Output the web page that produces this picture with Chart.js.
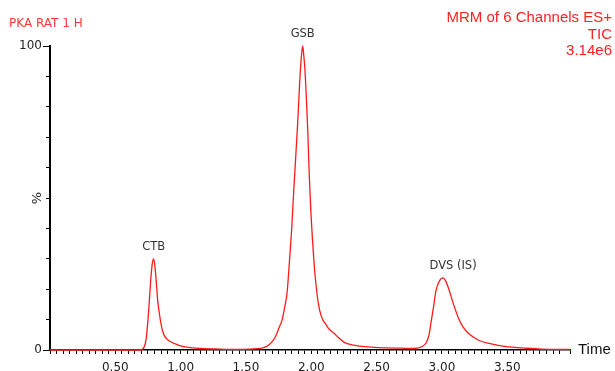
<!DOCTYPE html>
<html lang="en">
<head>
<meta charset="UTF-8">
<title>PKA RAT 1 H - MRM TIC</title>
<script src="https://cdn.jsdelivr.net/npm/chart.js"></script>
<style>
  body { margin: 0; background: #fff; }
  .wrap { position: relative; width: 615px; height: 371px; overflow: hidden; }
  .sample {
    position: absolute; left: 9px; top: 16px;
    font: 12px "DejaVu Sans", sans-serif; line-height: 14px;
    color: #ff3838;
  }
  .info {
    position: absolute; right: 3px; top: 9px;
    font: 15px "Liberation Sans", Arial, sans-serif; line-height: 16.7px;
    color: #ff2020; text-align: right;
  }
</style>
</head>
<body>
<div class="wrap">
  <canvas id="tic"></canvas>
  <div class="sample">PKA RAT 1 H</div>
  <div class="info">MRM of 6 Channels ES+<br>TIC<br>3.14e6</div>
</div>

<script>
// retention time (min) and relative intensity (%)
const retentionTimes = [
  0.00, 0.69, 0.721, 0.737, 0.750, 0.760, 0.771, 0.783, 0.793, 0.802,
  0.814, 0.825, 0.837, 0.848, 0.867, 0.890, 0.921, 0.959, 1.013, 1.074,
  1.151, 1.30, 1.45, 1.535, 1.612, 1.658, 1.696, 1.727, 1.750, 1.777,
  1.796, 1.815, 1.834, 1.850, 1.865, 1.880, 1.896, 1.911, 1.923, 1.934,
  1.942, 1.950, 1.961, 1.973, 1.984, 1.995, 2.011, 2.026, 2.045, 2.064,
  2.087, 2.110, 2.134, 2.172, 2.210, 2.249, 2.325, 2.433, 2.571, 2.686,
  2.778, 2.840, 2.878, 2.901, 2.916, 2.935, 2.955, 2.978, 3.008, 3.027,
  3.047, 3.085, 3.131, 3.162, 3.200, 3.277, 3.377, 3.507, 3.607, 3.761,
  3.98
];
const intensities = [
  0, 0, 1, 4, 10, 16, 23, 28.5, 30, 28,
  22, 16, 12, 9, 5.5, 3.8, 2.8, 2, 1.2, 0.8,
  0.5, 0.3, 0.2, 0.3, 0.5, 1.2, 2.5, 4.5, 7, 10,
  14, 19, 30, 40, 52, 63, 75, 88, 96, 100,
  97, 93, 84, 72, 58, 47, 35, 26, 18, 13,
  10, 8.5, 7, 5.6, 4, 2.6, 1.6, 1, 0.7, 0.6,
  0.5, 1, 2.3, 5, 9, 14, 19.7, 22.5, 23.7, 22.8,
  20.7, 15.5, 10, 7.5, 5.6, 3.3, 2, 1, 0.7, 0.3,
  0.2
];

// peak annotations
const peakNames = ['CTB', 'GSB', 'DVS (IS)'];
const peakLabelTimes = [0.794, 1.934, 3.085];
const peakHeights = [30, 100, 23.7];

// axis ticks
const xLabelTimes = [0.5, 1.0, 1.5, 2.0, 2.5, 3.0, 3.5];
const yTickLabels = [0, 100];

const tickFont = { family: '"DejaVu Sans", sans-serif', size: 12 };

// extra text and long ticks drawn on top of the chart
const extras = {
  id: 'extras',
  afterDraw(chart) {
    const { ctx, scales: { x, y } } = chart;
    ctx.save();

    // longer ticks at 0 and 100
    ctx.strokeStyle = '#000';
    ctx.lineWidth = 1;
    yTickLabels.forEach(v => {
      const py = Math.round(y.getPixelForValue(v)) + 0.5;
      ctx.beginPath();
      ctx.moveTo(x.left - 7, py);
      ctx.lineTo(x.left, py);
      ctx.stroke();
    });

    // peak names
    ctx.fillStyle = '#333';
    ctx.font = '11.5px "DejaVu Sans", sans-serif';
    ctx.textAlign = 'center';
    ctx.textBaseline = 'alphabetic';
    peakNames.forEach((name, i) => {
      ctx.fillText(name, x.getPixelForValue(peakLabelTimes[i]), y.getPixelForValue(peakHeights[i]) - 9);
    });

    // % axis title
    ctx.save();
    ctx.translate(x.left - 12, y.getPixelForValue(50));
    ctx.rotate(-Math.PI / 2);
    ctx.font = '13px "DejaVu Sans", sans-serif';
    ctx.fillStyle = '#222';
    ctx.textBaseline = 'middle';
    ctx.fillText('%', 0, 0);
    ctx.restore();

    // Time axis title
    ctx.font = '15px "Liberation Sans", Arial, sans-serif';
    ctx.fillStyle = '#111';
    ctx.textAlign = 'left';
    ctx.textBaseline = 'middle';
    ctx.fillText('Time', x.right + 8, y.bottom);

    ctx.restore();
  }
};

const ctx = document.getElementById('tic').getContext('2d');
const ticChart = new Chart(ctx, {
  type: 'line',
  data: {
    datasets: [{
      data: retentionTimes.map((t, i) => ({ x: t, y: intensities[i] })),
      borderColor: '#ff1a1a',
      borderWidth: 1.3,
      pointRadius: 0,
      cubicInterpolationMode: 'monotone',
      fill: false,
      clip: false
    }]
  },
  options: {
    responsive: true,
    maintainAspectRatio: false,
    animation: false,
    layout: { padding: { top: 46, right: 45, left: 0, bottom: 0 } },
    plugins: {
      legend: { display: false },
      tooltip: { enabled: false }
    },
    scales: {
      x: {
        type: 'linear',
        min: 0,
        max: 3.98,
        border: { color: '#000', width: 1.5 },
        grid: { drawOnChartArea: false, color: '#000', tickLength: 4 },
        ticks: {
          stepSize: 0.05,
          maxTicksLimit: 200,
          autoSkip: false,
          maxRotation: 0,
          padding: 7,
          font: tickFont,
          color: '#222',
          callback: v => {
            const match = xLabelTimes.find(t => Math.abs(t - v) < 1e-6);
            return match !== undefined ? match.toFixed(2) : '';
          }
        },
        afterFit: s => { s.height = 21; }
      },
      y: {
        min: 0,
        max: 100,
        border: { color: '#000', width: 2 },
        grid: { drawOnChartArea: false, color: '#000', tickLength: 4 },
        ticks: {
          stepSize: 10,
          padding: 4,
          font: tickFont,
          color: '#222',
          callback: v => yTickLabels.includes(v) ? String(v) : ''
        },
        afterFit: s => { s.width = 50; }
      }
    }
  },
  plugins: [extras]
});
</script>
</body>
</html>
